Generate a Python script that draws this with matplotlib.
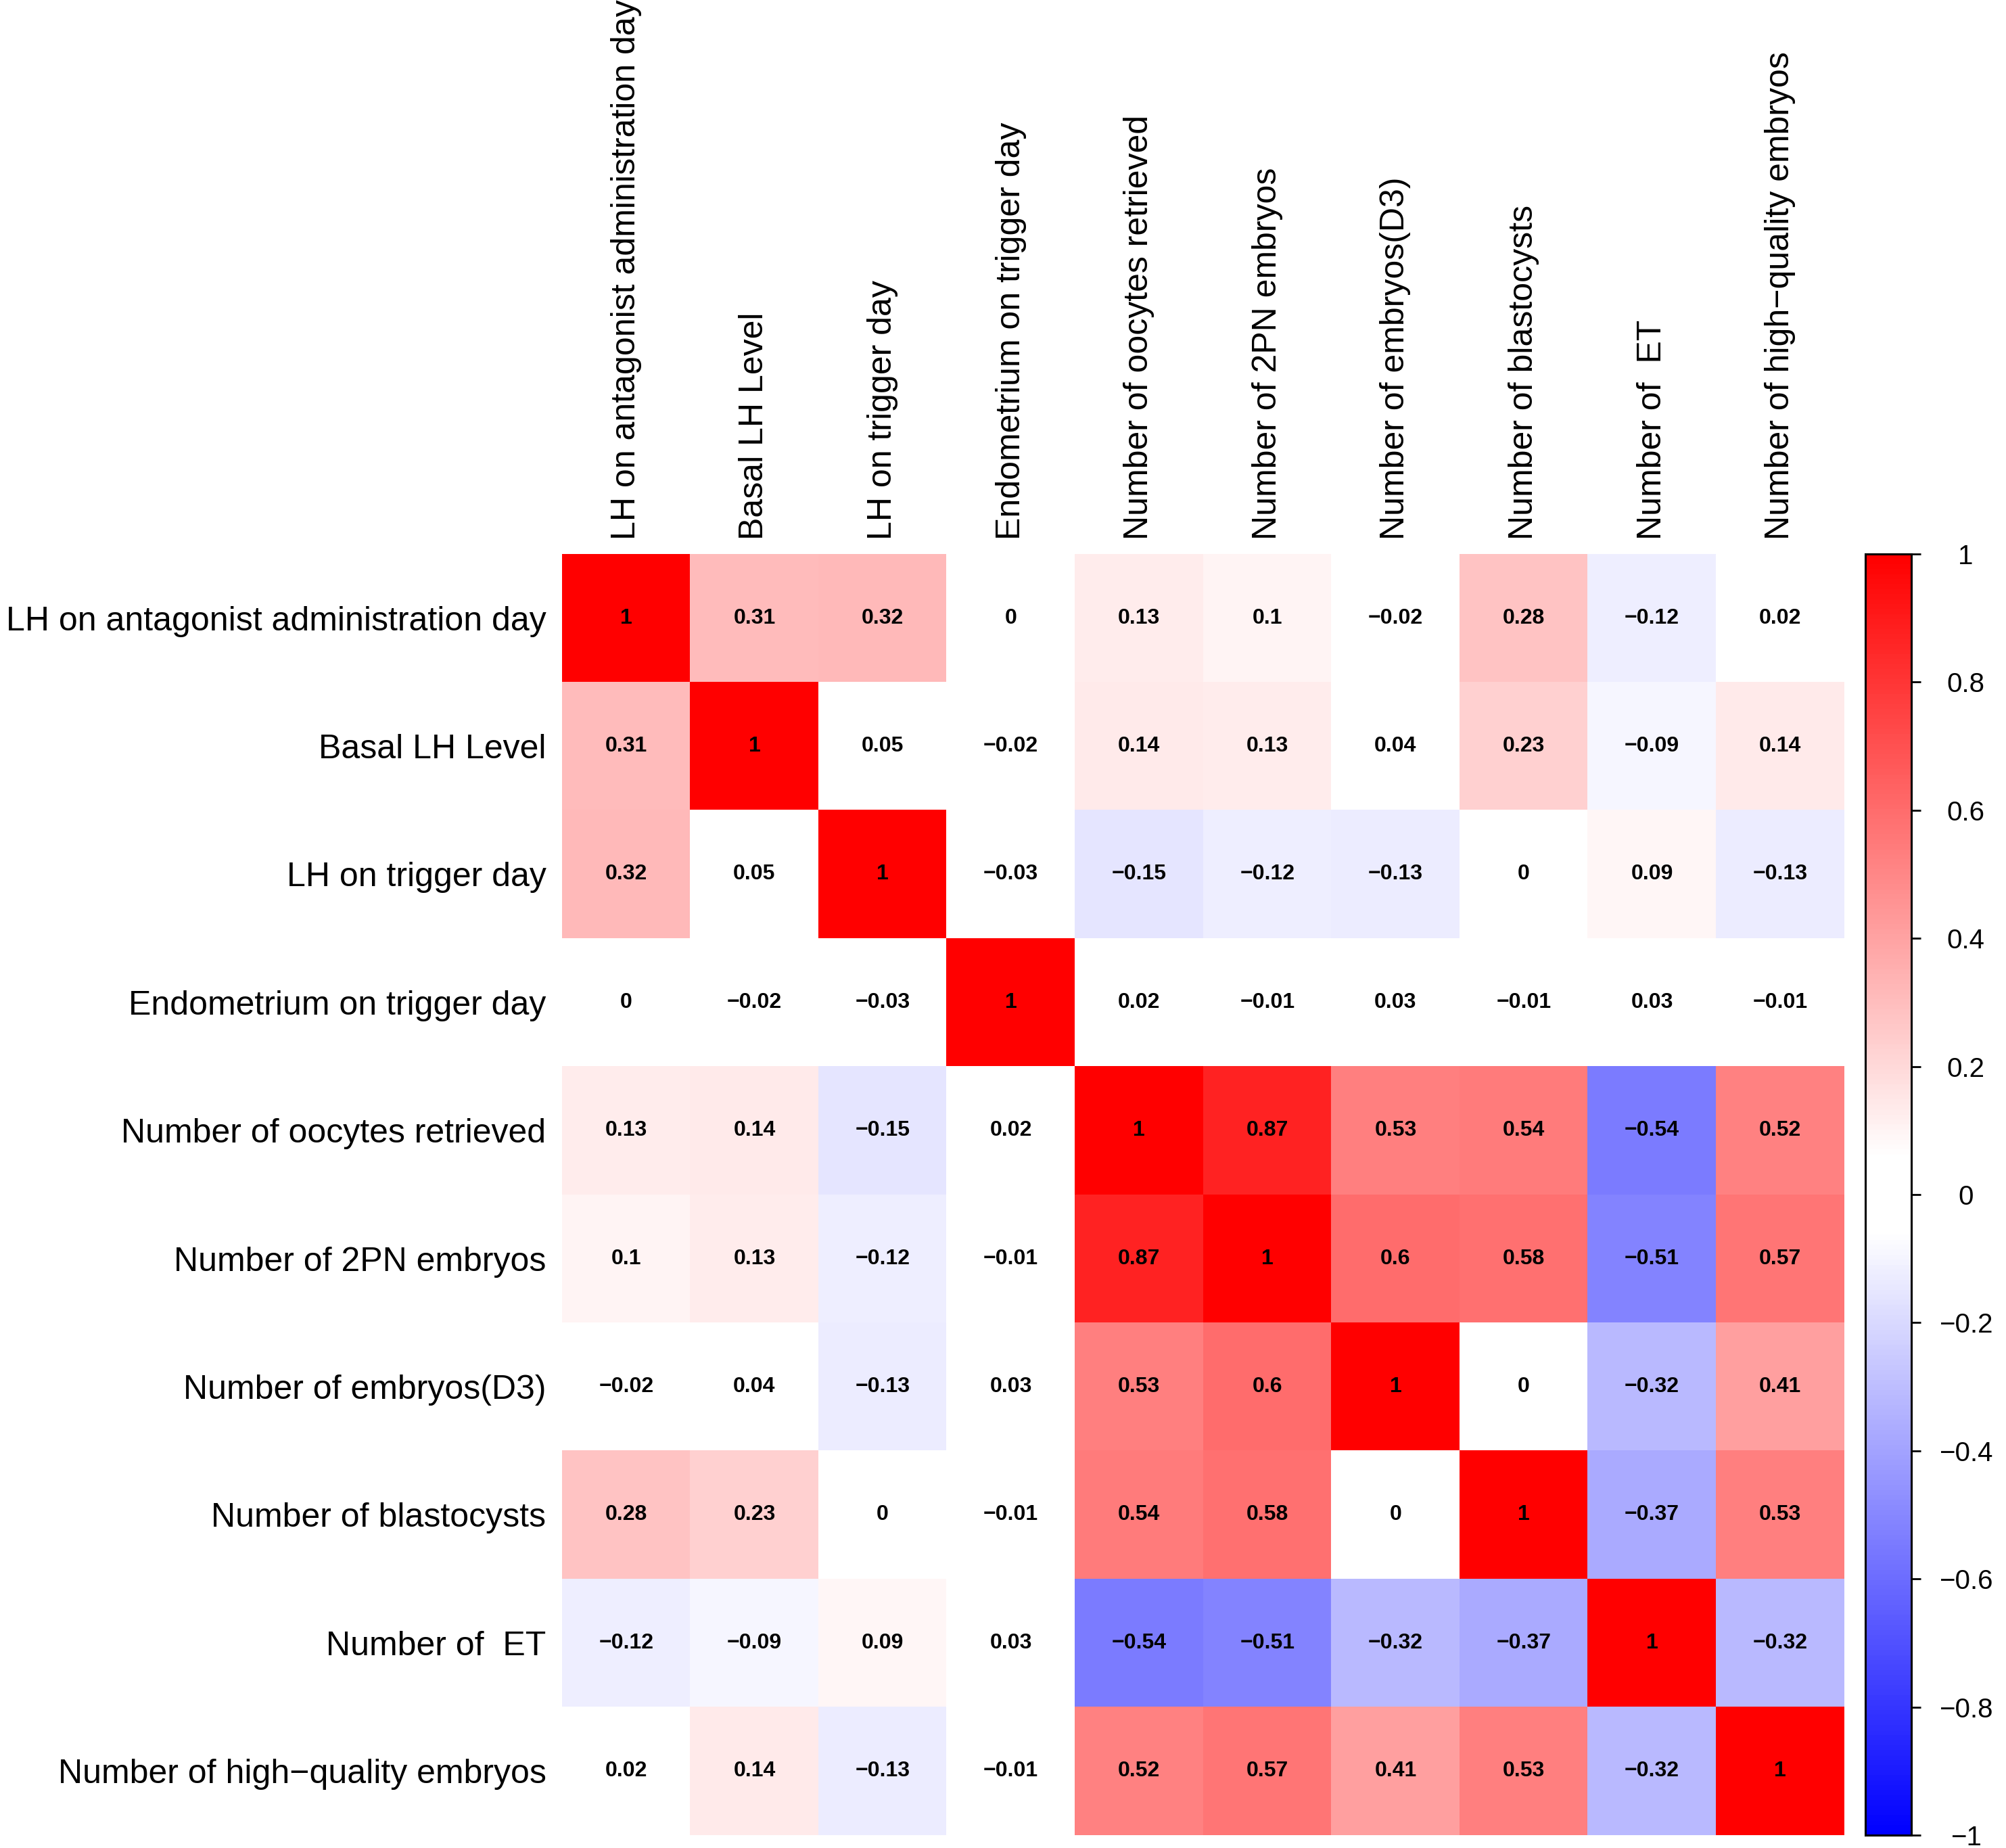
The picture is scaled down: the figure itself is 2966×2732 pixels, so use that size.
import numpy as np
import matplotlib
matplotlib.use("Agg")
import matplotlib.pyplot as plt
from matplotlib.colors import LinearSegmentedColormap

plt.rcParams["font.family"] = ["Liberation Sans", "DejaVu Sans"]

# ---------------------------------------------------------------------------
# Data
# ---------------------------------------------------------------------------
variables = [
    "LH on antagonist administration day",
    "Basal LH Level",
    "LH on trigger day",
    "Endometrium on trigger day",
    "Number of oocytes retrieved",
    "Number of 2PN embryos",
    "Number of embryos(D3)",
    "Number of blastocysts",
    "Number of  ET",
    "Number of high\u2212quality embryos",
]

r_lh_antagonist = [1, 0.31, 0.32, 0, 0.13, 0.1, -0.02, 0.28, -0.12, 0.02]
r_basal_lh      = [0.31, 1, 0.05, -0.02, 0.14, 0.13, 0.04, 0.23, -0.09, 0.14]
r_lh_trigger    = [0.32, 0.05, 1, -0.03, -0.15, -0.12, -0.13, 0, 0.09, -0.13]
r_endometrium   = [0, -0.02, -0.03, 1, 0.02, -0.01, 0.03, -0.01, 0.03, -0.01]
r_oocytes       = [0.13, 0.14, -0.15, 0.02, 1, 0.87, 0.53, 0.54, -0.54, 0.52]
r_2pn           = [0.1, 0.13, -0.12, -0.01, 0.87, 1, 0.6, 0.58, -0.51, 0.57]
r_d3            = [-0.02, 0.04, -0.13, 0.03, 0.53, 0.6, 1, 0, -0.32, 0.41]
r_blastocysts   = [0.28, 0.23, 0, -0.01, 0.54, 0.58, 0, 1, -0.37, 0.53]
r_et            = [-0.12, -0.09, 0.09, 0.03, -0.54, -0.51, -0.32, -0.37, 1, -0.32]
r_high_quality  = [0.02, 0.14, -0.13, -0.01, 0.52, 0.57, 0.41, 0.53, -0.32, 1]

corr = np.array([
    r_lh_antagonist, r_basal_lh, r_lh_trigger, r_endometrium, r_oocytes,
    r_2pn, r_d3, r_blastocysts, r_et, r_high_quality,
])

cbar_ticks = [1, 0.8, 0.6, 0.4, 0.2, 0, -0.2, -0.4, -0.6, -0.8, -1]

# ---------------------------------------------------------------------------
# Figure
# ---------------------------------------------------------------------------
W, H = 2966, 2732
fig = plt.figure(figsize=(W / 100, H / 100), dpi=100)

cmap = LinearSegmentedColormap.from_list(
    "bwr_corr",
    [(0.0, "#0000FF"), (0.47, "#FFFFFF"), (0.53, "#FFFFFF"), (1.0, "#FF0000")],
    N=256,
)

top, bottom = 819, 2713
ax = fig.add_axes([831 / W, 1 - bottom / H, 1896 / W, (bottom - top) / H])
n = len(variables)
im = ax.imshow(corr, cmap=cmap, vmin=-1, vmax=1, aspect="auto",
               interpolation="nearest", extent=(-0.5, n - 0.5, n - 0.5, -0.5))

for i in range(n):
    for j in range(n):
        v = corr[i, j]
        ax.text(j, i, f"{v:g}".replace("-", "\u2212"), ha="center", va="center",
                fontsize=23, fontweight="bold", color="black")

ax.set_xticks(range(n))
ax.set_yticks(range(n))
ax.set_xticklabels(variables, rotation=90, fontsize=36, ha="center", va="bottom")
ax.set_yticklabels(variables, fontsize=36)
ax.xaxis.tick_top()
ax.tick_params(axis="x", length=0, pad=15)
ax.tick_params(axis="y", length=0, pad=17)
for s in ax.spines.values():
    s.set_visible(False)

# colour bar
cax = fig.add_axes([2758 / W, 1 - bottom / H, 68 / W, (bottom - top) / H])
cb = fig.colorbar(im, cax=cax, ticks=cbar_ticks)
cb.outline.set_linewidth(2.2)
cb.outline.set_edgecolor("black")
cb.ax.set_yticklabels([f"{t:g}".replace("-", "\u2212") for t in cbar_ticks])
cb.ax.tick_params(length=10, width=2, labelsize=29, pad=48)
for lbl in cb.ax.get_yticklabels():
    lbl.set_horizontalalignment("center")

fig.savefig("out.png", dpi=100)
